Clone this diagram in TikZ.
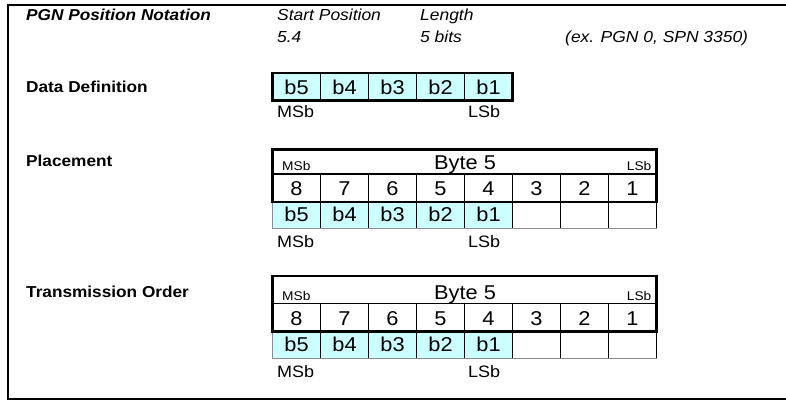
\documentclass[tikz,border=0pt]{standalone}
\usepackage{fontspec}
\setmainfont{Liberation Sans}[FakeStretch=1.09]
\definecolor{bitfill}{HTML}{CCFFFF}
\tikzset{
  frameline/.style={line width=2pt},
  rowlabel/.style={anchor=base west, inner sep=0pt, font=\fontsize{15.8}{18}\selectfont\bfseries},
  toptext/.style={anchor=base west, inner sep=0pt, font=\fontsize{16}{18}\selectfont\itshape},
  bigtext/.style={inner sep=0pt, font=\fontsize{20}{22}\selectfont},
  smalltext/.style={inner sep=0pt, font=\fontsize{12.6}{14}\selectfont},
  undertext/.style={anchor=base west, inner sep=0pt, font=\fontsize{16.5}{18}\selectfont},
  thickrule/.style={line width=2.4pt},
  midrule/.style={line width=1.6pt},
  gridrule/.style={line width=0.6pt, draw=black!45},
}
% #1 prefix, #2 top, #3 header/number line, #4 number/bit line, #5 bottom, #6 under-label baseline
\newcommand\ByteTable[6]{%
  \fill[bitfill] (272.5,#4) rectangle (512.5,#5);
  \draw[gridrule] (272.5,#4) -- (272.5,#5) -- (656.5,#5);
  \foreach \i in {1,...,8}{\draw[midrule] ({272.5+48*\i},#4) -- ({272.5+48*\i},#5);}
  \foreach \i in {1,...,7}{\draw[midrule] ({272.5+48*\i},#3) -- ({272.5+48*\i},#4);}
  \draw[midrule] (272.5,#3) -- (656.5,#3);
  \draw[thickrule] (272.5,#4) rectangle (656.5,#2);
  \node[smalltext, anchor=base west] (#1hm) at (282,{#3-3.5}) {MSb};
  \node[bigtext, anchor=base] (#1hb) at (465,{#3-4.5}) {Byte 5};
  \node[smalltext, anchor=base east] (#1hl) at (651.5,{#3-3.5}) {LSb};
  \foreach \i in {0,...,7}{%
    \pgfmathtruncatemacro\num{8-\i}
    \node[bigtext, anchor=base] (#1n\num) at ({296.5+48*\i},{#4-6.5}) {\num};
  }
  \foreach \i in {0,...,4}{%
    \pgfmathtruncatemacro\num{5-\i}
    \node[bigtext, anchor=base] (#1b\num) at ({296.5+48*\i},{#5-6.5}) {b\num};
  }
  \node[undertext] (#1um) at (277,#6) {MSb};
  \node[undertext] (#1ul) at (468,#6) {LSb};
}
\begin{document}
\begin{tikzpicture}[x=1pt,y=-1pt]
\useasboundingbox (0,0) rectangle (786,403);
% frame
\draw[frameline] (786,5.5) -- (8,5.5) -- (8,398.5) -- (786,398.5);
% top text
\node[toptext, font=\fontsize{15.8}{18}\selectfont\bfseries\itshape] (pgn) at (26,21) {PGN Position Notation};
\node[toptext] (startpos) at (277,21) {Start Position};
\node[toptext] (length) at (420,21) {Length};
\node[toptext] (startval) at (277,43) {5.4};
\node[toptext] (lenval) at (420,43) {5 bits};
\node[toptext] (example) at (565,43) {(ex. PGN 0, SPN 3350)};
% row labels
\node[rowlabel] (ldd) at (26,92.5) {Data Definition};
\node[rowlabel] (lpl) at (26,167) {Placement};
\node[rowlabel] (ltr) at (26,297) {Transmission Order};
% data definition
\fill[bitfill] (272.5,73) rectangle (512.5,100.5);
\foreach \i in {1,...,4}{\draw[midrule] ({272.5+48*\i},73) -- ({272.5+48*\i},100.5);}
\draw[thickrule] (272.5,73) rectangle (512.5,100.5);
\foreach \i in {0,...,4}{%
  \pgfmathtruncatemacro\num{5-\i}
  \node[bigtext, anchor=base] (dd\num) at ({296.5+48*\i},94.5) {b\num};
}
\node[undertext] (ddm) at (277,117.5) {MSb};
\node[undertext] (ddl) at (468,117.5) {LSb};
% placement and transmission
\ByteTable{p}{149.5}{174}{202}{228}{247.5}
\ByteTable{t}{276}{303.5}{331.5}{358}{377.5}
\end{tikzpicture}
\end{document}
